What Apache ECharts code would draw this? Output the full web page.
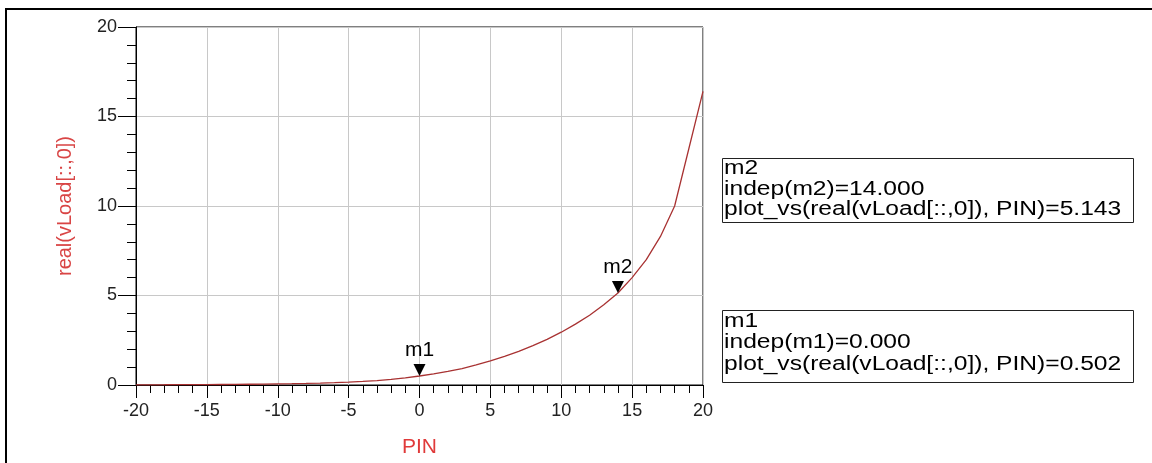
<!DOCTYPE html>
<html><head><meta charset="utf-8">
<script src="https://cdn.jsdelivr.net/npm/echarts@6/dist/echarts.min.js"></script>
<style>html,body{margin:0;padding:0;background:#fff;}#c{width:1152px;height:463px;}</style>
</head><body><div id="c"></div>
<script>
// Data
const pin = [-20,-19,-18,-17,-16,-15,-14,-13,-12,-11,-10,-9,-8,-7,-6,-5,-4,-3,-2,-1,0,1,2,3,4,5,6,7,8,9,10,11,12,13,14,15,16,17,18,19,20];
const vLoad = [0.010,0.012,0.014,0.017,0.020,0.024,0.029,0.034,0.041,0.049,0.060,0.072,0.087,0.105,0.13,0.16,0.20,0.25,0.31,0.40,0.502,0.62,0.76,0.92,1.12,1.35,1.60,1.88,2.20,2.55,2.95,3.40,3.90,4.48,5.143,6.00,7.00,8.30,10.00,13.20,16.40];
const xTicks = [-20,-15,-10,-5,0,5,10,15,20];
const yTicks = [0,5,10,15,20];
const markerNames = ['m1','m2'];
const markerIndep = [0, 14];
const markerValues = [0.502, 5.143];

const FONT = 'Liberation Sans, Arial, sans-serif';
const chart = echarts.init(document.getElementById('c'));

const seriesData = pin.map((p, i) => [p, vLoad[i]]);

// marker readout boxes (layout only)
const boxLayout = {
  m2: {top: 158.5, height: 64, lines: [168.5, 189, 209.5]},
  m1: {top: 310.5, height: 72, lines: [321, 342.5, 364]}
};
const graphics = [{
  type: 'rect', silent: true,
  shape: {x: 6, y: 9, width: 1300, height: 600},
  style: {fill: 'none', stroke: '#000', lineWidth: 2}
}];
markerNames.forEach((n, i) => {
  const L = boxLayout[n];
  const texts = [
    n,
    'indep(' + n + ')=' + markerIndep[i].toFixed(3),
    'plot_vs(real(vLoad[::,0]), PIN)=' + markerValues[i].toFixed(3)
  ];
  graphics.push({
    type: 'rect', silent: true,
    shape: {x: 722.5, y: L.top, width: 411, height: L.height},
    style: {fill: '#fff', stroke: '#222', lineWidth: 1}
  });
  texts.forEach((t, k) => {
    graphics.push({
      type: 'text', silent: true,
      x: 724, y: L.lines[k], scaleX: 1.23, scaleY: 1,
      style: {text: t, x: 0, y: 0, fill: '#000', font: '20px ' + FONT, verticalAlign: 'middle', align: 'left'}
    });
  });
});

chart.setOption({
  animation: false,
  backgroundColor: '#fff',
  grid: {left: 136, right: 449, top: 27, bottom: 76, show: true, borderColor: '#000', borderWidth: 1},
  xAxis: {
    type: 'value', min: xTicks[0], max: xTicks[xTicks.length - 1], interval: 5,
    name: 'PIN', nameLocation: 'middle', nameGap: 52,
    nameTextStyle: {color: '#e03a3a', fontSize: 21, fontFamily: FONT},
    axisLine: {show: true, onZero: false, lineStyle: {color: '#000', width: 1}},
    axisTick: {show: true, inside: false, length: 13, lineStyle: {color: '#000'}},
    minorTick: {show: true, splitNumber: 5, length: 8, lineStyle: {color: '#000'}},
    axisLabel: {color: '#222', fontSize: 18, fontFamily: FONT, margin: 17},
    splitLine: {show: true, lineStyle: {color: '#c8c8c8', width: 1}},
    minorSplitLine: {show: false}
  },
  yAxis: {
    type: 'value', min: yTicks[0], max: yTicks[yTicks.length - 1], interval: 5,
    name: 'real(vLoad[::,0])', nameLocation: 'middle', nameGap: 61,
    nameTextStyle: {color: '#d94545', fontSize: 20, fontFamily: FONT},
    axisLine: {show: true, onZero: false, lineStyle: {color: '#000', width: 1}},
    axisTick: {show: true, inside: false, length: 18, lineStyle: {color: '#000'}},
    minorTick: {show: true, splitNumber: 5, length: 9, lineStyle: {color: '#000'}},
    axisLabel: {color: '#222', fontSize: 18, fontFamily: FONT, margin: 19},
    splitLine: {show: true, lineStyle: {color: '#c8c8c8', width: 1}}
  },
  series: [{
    type: 'line', data: seriesData, showSymbol: false, smooth: false,
    lineStyle: {color: '#a83232', width: 1.3},
    markPoint: {
      symbol: 'triangle', symbolSize: [12, 12], symbolRotate: 180, symbolOffset: [0, -6],
      itemStyle: {color: '#000'},
      label: {show: true, position: 'top', distance: 3, color: '#000', fontSize: 21, fontFamily: FONT,
        formatter: p => p.name},
      data: markerNames.map((n, i) => ({name: n, coord: [markerIndep[i], markerValues[i]]}))
    }
  }],
  graphic: graphics
});
</script></body></html>
